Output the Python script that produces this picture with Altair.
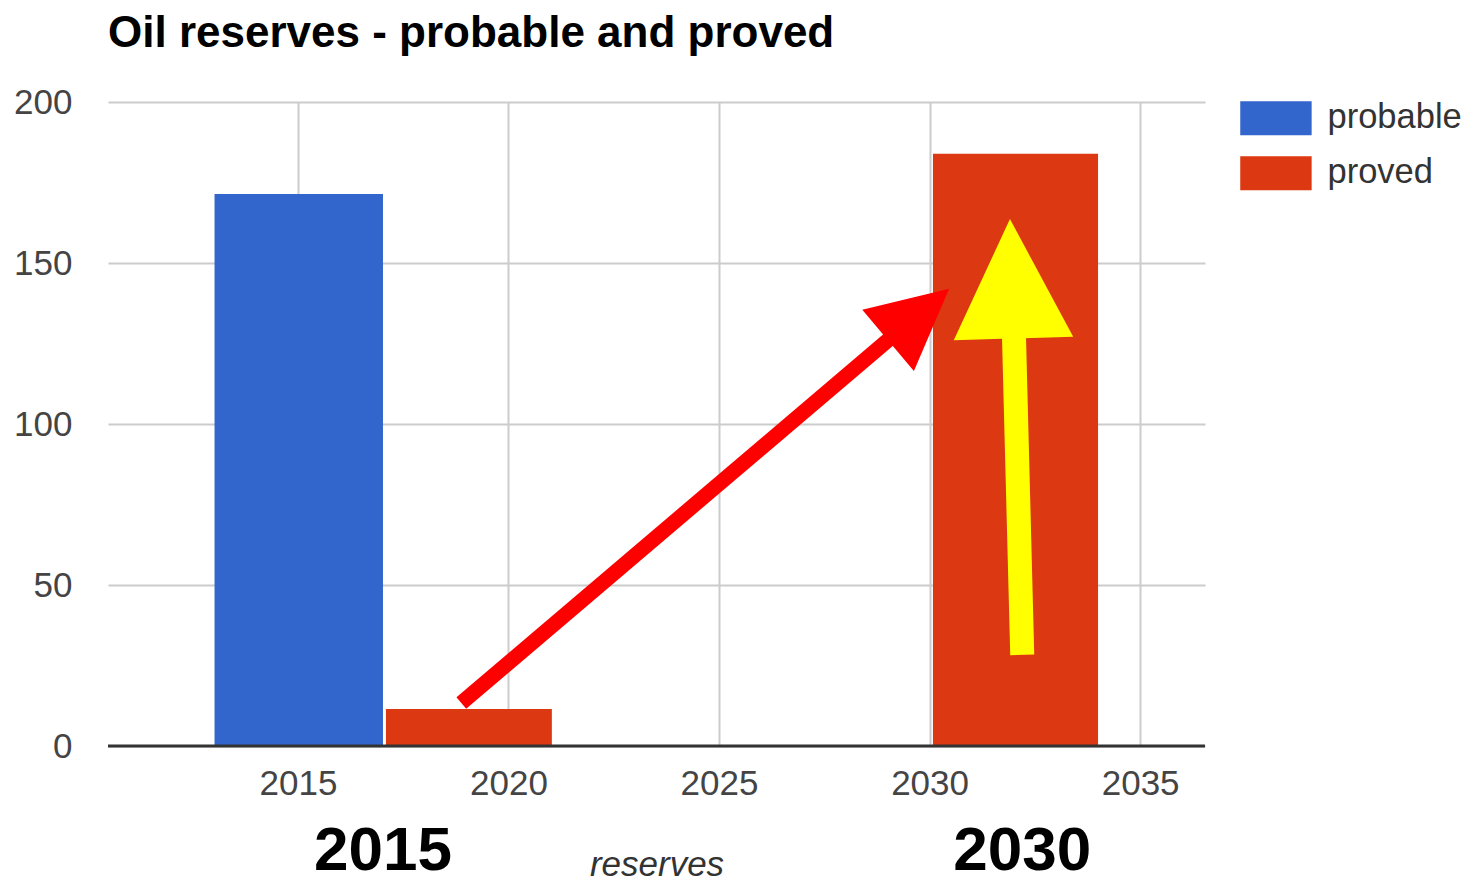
import altair as alt
import pandas as pd

# ---- data ----
series = ["probable", "proved", "proved"]
bar_start = [2013.02, 2017.09, 2030.08]
bar_end = [2017.02, 2021.03, 2034.0]
bar_value = [171.4, 11.5, 183.9]

x_ticks = [2015, 2020, 2025, 2030, 2035]
y_ticks = [0, 50, 100, 150, 200]

big_label_x = [2017.02, 2032.2]
big_label_text = ["2015", "2030"]

# arrow annotations (data coordinates)
red_shaft = {"x": [2018.88], "y": [13.35], "x2": [2029.17], "y2": [127.8]}
red_head = {"x": [2029.74], "y": [134.0]}
yellow_shaft = {"x": [2032.2], "y": [28.3], "x2": [2032.0], "y2": [129.2]}
yellow_head = {"x": [2031.95], "y": [145.1]}

FONT = "Liberation Sans"

bars_df = pd.DataFrame({"series": series, "start": bar_start, "end": bar_end, "value": bar_value})
labels_df = pd.DataFrame({"x": big_label_x, "label": big_label_text})

xscale = alt.Scale(domain=[2010.49, 2036.54], nice=False, zero=False)
yscale = alt.Scale(domain=[0, 200], nice=False)

x_axis = alt.Axis(
    values=x_ticks, format="d", grid=True, gridColor="#cccccc", gridWidth=2,
    domain=False, ticks=False, tickSize=0, labelFont=FONT, labelFontSize=35,
    labelColor="#444444", labelPadding=20, title="reserves", titleFont=FONT,
    titleFontSize=35, titleFontStyle="italic", titleFontWeight="normal",
    titleColor="#333333", titleX=548.5, titleY=129, titleBaseline="alphabetic",
    titleAlign="center",
)
y_axis = alt.Axis(
    values=y_ticks, grid=True, gridColor="#cccccc", gridWidth=2, domain=False,
    ticks=False, tickSize=0, labelFont=FONT, labelFontSize=35, labelColor="#444444",
    labelPadding=36, title=None,
)

bars = alt.Chart(bars_df).mark_rect().encode(
    x=alt.X("start:Q", scale=xscale, axis=x_axis),
    x2="end:Q",
    y=alt.Y("value:Q", scale=yscale, axis=y_axis),
    y2=alt.datum(0),
    color=alt.Color(
        "series:N",
        scale=alt.Scale(domain=["probable", "proved"], range=["#3366cc", "#dc3912"]),
        legend=alt.Legend(
            title=None, orient="none", legendX=1150.7, legendY=-1, padding=0,
            symbolType="M-2.1,-1L2.1,-1L2.1,1L-2.1,1Z", symbolSize=1156,
            symbolStrokeWidth=0, symbolOpacity=1, labelFont=FONT, labelFontSize=34.5,
            labelColor="#333333", labelOffset=34.3, rowPadding=19,
        ),
    ),
)

baseline = alt.Chart(pd.DataFrame({"y": [0]})).mark_rule(color="#333333", strokeWidth=3).encode(
    y=alt.Y("y:Q", scale=yscale)
)

red_line = alt.Chart(pd.DataFrame(red_shaft)).mark_rule(color="#ff0000", strokeWidth=15).encode(
    x=alt.X("x:Q", scale=xscale), x2="x2:Q", y=alt.Y("y:Q", scale=yscale), y2="y2:Q"
)
red_tri = alt.Chart(pd.DataFrame(red_head)).mark_point(
    shape="M0,-1L1,1L-1,1Z", filled=True, opacity=1, color="#ff0000", size=6400,
    angle=49.8, strokeWidth=0,
).encode(x=alt.X("x:Q", scale=xscale), y=alt.Y("y:Q", scale=yscale))

yellow_line = alt.Chart(pd.DataFrame(yellow_shaft)).mark_rule(color="#ffff00", strokeWidth=24).encode(
    x=alt.X("x:Q", scale=xscale), x2="x2:Q", y=alt.Y("y:Q", scale=yscale), y2="y2:Q"
)
yellow_tri = alt.Chart(pd.DataFrame(yellow_head)).mark_point(
    shape="M0,-1L1,1L-1,1Z", filled=True, opacity=1, color="#ffff00", size=14280,
    angle=358.3, strokeWidth=0,
).encode(x=alt.X("x:Q", scale=xscale), y=alt.Y("y:Q", scale=yscale))

big_labels = alt.Chart(labels_df).mark_text(
    font=FONT, fontSize=62, fontWeight="bold", color="#000000", align="center",
    baseline="alphabetic",
).encode(x=alt.X("x:Q", scale=xscale), y=alt.value(768), text="label:N")

chart = alt.layer(
    bars, baseline, red_line, red_tri, yellow_line, yellow_tri, big_labels
).properties(
    width=1097,
    height=644,
    title=alt.TitleParams(
        "Oil reserves - probable and proved", font=FONT, fontSize=44, fontWeight="bold",
        color="#000000", anchor="start", frame="group", baseline="alphabetic", offset=1,
        dy=7,
    ),
    autosize=alt.AutoSizeParams(type="none"),
    padding={"left": 100, "top": 94, "right": 268, "bottom": 137},
).configure_view(stroke=None)

chart.save("out.html", embed_options={"renderer": "svg", "actions": False})
